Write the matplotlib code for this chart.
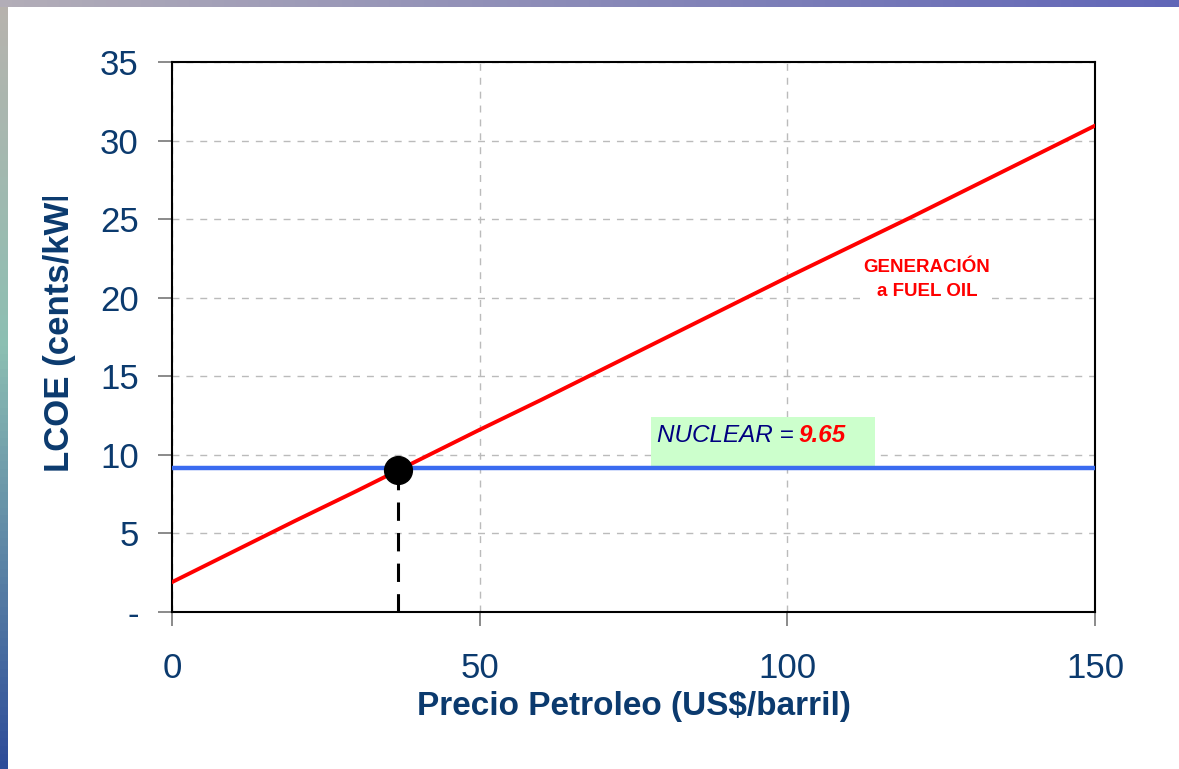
# LCOE vs oil price chart

import numpy as np
import matplotlib.pyplot as plt

# data
oil_price = [0, 10, 20, 30, 40, 50, 60, 70, 80, 90, 100, 110, 120, 130, 140, 150]
lcoe_fuel_oil = [1.9, 3.85, 5.8, 7.7, 9.65, 11.6, 13.5, 15.45, 17.4, 19.35, 21.3, 23.2, 25.1, 27.05, 29.0, 30.95]
nuclear_level = 9.15
nuclear_label = "9.65"
breakeven_x = 36.7
breakeven_y = 9.05
yticks = [0, 5, 10, 15, 20, 25, 30, 35]
yticklabels = ["-", "5", "10", "15", "20", "25", "30", "35"]
xticks = [0, 50, 100, 150]

navy = "#0B3A6E"
plt.rcParams['font.family'] = ['Liberation Sans', 'DejaVu Sans']

W, H = 1179, 769
fig = plt.figure(figsize=(W / 100, H / 100), dpi=100)
fig.patch.set_facecolor("white")

# slide background strips (left and top edges)
left = fig.add_axes([0, 0, 8 / W, 1])
grad = np.zeros((100, 1, 3))
top_col = np.array([0.72, 0.70, 0.68])
mid_col = np.array([0.55, 0.75, 0.70])
bot_col = np.array([0.18, 0.30, 0.60])
for i in range(100):
    t = i / 99
    if t < 0.45:
        grad[i, 0] = top_col + (mid_col - top_col) * t / 0.45
    else:
        grad[i, 0] = mid_col + (bot_col - mid_col) * (t - 0.45) / 0.55
left.imshow(grad, aspect="auto")
left.axis("off")
top = fig.add_axes([0, 1 - 7 / H, 1, 7 / H])
tgrad = np.zeros((1, 100, 3))
for i in range(100):
    t = i / 99
    tgrad[0, i] = np.array([0.70, 0.68, 0.72]) * (1 - t) + np.array([0.38, 0.40, 0.72]) * t
top.imshow(tgrad, aspect="auto")
top.axis("off")

# main axes
ax = fig.add_axes([172 / W, (H - 612) / H, 923 / W, 550 / H])
ax.set_xlim(0, 150)
ax.set_ylim(0, 35)

ax.grid(True, color="#BBBBBB", linestyle=(0, (5, 5)), linewidth=1)
ax.set_axisbelow(True)

ax.plot(oil_price, lcoe_fuel_oil, color="#FF0000", lw=2.8, zorder=3)
ax.axhline(nuclear_level, color="#3A6BF0", lw=3.2, zorder=3)
ax.plot([breakeven_x, breakeven_x], [0, breakeven_y], color="black", lw=2.2,
        linestyle=(0, (6, 4)), zorder=4)
ax.plot(breakeven_x, breakeven_y, "o", color="black", markersize=20, zorder=5)

# nuclear label box
ax.add_patch(plt.Rectangle((77.9, nuclear_level + 0.1), 36.4, 3.15, fc="#CCFFCC",
                           ec="none", zorder=2))
ax.text(78.8, 11.25, "NUCLEAR =", fontsize=17.5, style="italic", color="#000080",
        va="center", ha="left", zorder=6)
ax.text(105.6, 11.25, nuclear_label, fontsize=17.5, style="italic", weight="bold",
        color="#FF0000", va="center", ha="center", zorder=6)

ax.text(122.7, 21.15, "GENERACIÓN\na FUEL OIL", fontsize=13.5, weight="bold",
        color="#FF0000", ha="center", va="center", linespacing=1.5, zorder=6,
        bbox=dict(boxstyle="square,pad=0.1", fc="white", ec="none"))

for s in ax.spines.values():
    s.set_color("black")
    s.set_linewidth(1.5)

ax.set_yticks(yticks)
ax.set_yticklabels(yticklabels)
ax.set_xticks(xticks)
ax.tick_params(axis="y", direction="out", length=10, width=1.2, color="#777777",
               labelsize=25, labelcolor=navy, pad=14)
ax.tick_params(axis="x", direction="out", length=10, width=1.2, color="#777777",
               labelsize=25, labelcolor=navy, pad=19)

# axis labels
fig.text(634 / W, 1 - 707 / H, "Precio Petroleo (US$/barril)", fontsize=24,
         weight="bold", color=navy, ha="center", va="center")
fig.text(60 / W, 1 - 472 / H, "LCOE (cents/kWh)", fontsize=25, weight="bold",
         color=navy, ha="center", va="bottom", rotation=90, zorder=3)
# the label runs past the slide area at the top; mask it as in the original
fig.patches.append(plt.Rectangle((20 / W, 1 - 197 / H), 80 / W, 60 / H,
                                 transform=fig.transFigure, fc="white", ec="none",
                                 zorder=10))

fig.savefig("out.png", dpi=100)
